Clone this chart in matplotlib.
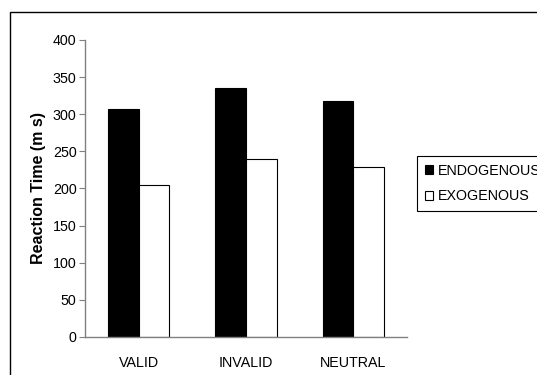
import numpy as np
import matplotlib.pyplot as plt
from matplotlib.patches import Rectangle

plt.rcParams['font.family'] = ['Liberation Sans', 'DejaVu Sans']

conditions = ["VALID", "INVALID", "NEUTRAL"]
endogenous = [307, 336, 318]
exogenous = [205, 240, 229]
series_names = ["ENDOGENOUS", "EXOGENOUS"]

W, H = 537, 375
fig = plt.figure(figsize=(W/100, H/100), dpi=100)
ax = fig.add_axes([85/W, 1-337/H, (407-85)/W, (337-40)/H])

x = np.arange(len(conditions))
bw = 0.285
ax.bar(x - bw/2, endogenous, bw, color="black", edgecolor="black", linewidth=0.8, label=series_names[0])
ax.bar(x + bw/2, exogenous, bw, color="white", edgecolor="black", linewidth=0.8, label=series_names[1])

ax.set_xlim(-0.5, len(conditions)-0.5)
ax.set_ylim(0, 400)
ax.set_yticks(range(0, 401, 50))
ax.set_xticks(x)
ax.set_xticklabels(conditions, fontsize=10.3)
ax.tick_params(axis="x", length=0, pad=14)
ax.tick_params(axis="y", direction="out", length=4, color="#808080", labelsize=10.3, pad=2)
for s in ["top", "right"]:
    ax.spines[s].set_visible(False)
for s in ["left", "bottom"]:
    ax.spines[s].set_color("#808080")
    ax.spines[s].set_linewidth(1)

ax.set_ylabel("Reaction Time (m s)", fontsize=11.5, fontweight="bold", labelpad=5)

leg = fig.legend(loc="upper left", bbox_to_anchor=(417/W, 1-156/H), fontsize=10.3,
                 frameon=True, fancybox=False, framealpha=1, edgecolor="black",
                 handlelength=0.6, handleheight=0.6, handletextpad=0.3,
                 borderpad=0.55, labelspacing=0.8, borderaxespad=0)
leg.get_frame().set_linewidth(0.8)

# outer chart border (runs off the right and bottom edges)
fig.patches.append(Rectangle((10/W, -0.1), 1.1, 1-12/H+0.1, transform=fig.transFigure,
                             fill=False, edgecolor="black", linewidth=1, clip_on=False))

fig.savefig("out.png", dpi=100)
